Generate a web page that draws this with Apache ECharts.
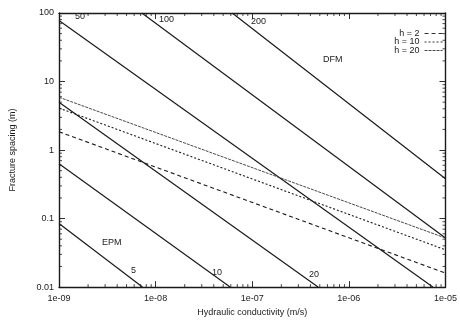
<!DOCTYPE html>
<html>
<head>
<meta charset="utf-8">
<script src="https://cdn.jsdelivr.net/npm/echarts@6/dist/echarts.min.js"></script>
<style>
  html, body { margin: 0; padding: 0; background: #fff; }
  #chart { width: 460px; height: 322px; }
</style>
</head>
<body>
<div id="chart"></div>
<script>
// Aperture lines (fracture aperture in micrometres): end points [K (m/s), spacing (m)]
const apertureLabels = ['5', '10', '20', '50', '100', '200'];
const aperture5   = [[1e-9, 0.085], [7.3e-9, 0.01]];
const aperture10  = [[1e-9, 0.63],  [5.9e-8, 0.01]];
const aperture20  = [[1e-9, 5.0],   [4.8e-7, 0.01]];
const aperture50  = [[1e-9, 78],    [7.4e-6, 0.01]];
const aperture100 = [[7.2e-9, 100], [1e-5, 0.052]];
const aperture200 = [[6.2e-8, 100], [1e-5, 0.38]];

// Thickness criteria h = 2, 10, 20
const hLabels = ['h = 2', 'h = 10', 'h = 20'];
const h2  = [[1e-9, 1.85], [1e-5, 0.016]];
const h10 = [[1e-9, 4.1],  [1e-5, 0.035]];
const h20 = [[1e-9, 5.9],  [1e-5, 0.052]];

// Axis ticks
const xTickLabels = ['1e-09', '1e-08', '1e-07', '1e-06', '1e-05'];
const yTickLabels = ['0.01', '0.1', '1', '10', '100'];
const xDecades = [1e-9, 1e-8, 1e-7, 1e-6];
const yDecades = [0.01, 0.1, 1, 10];
const minorSteps = [2, 3, 4, 5, 6, 7, 8, 9];

const X_MIN = 1e-9, X_MAX = 1e-5, Y_MIN = 0.01, Y_MAX = 100;
const FONT = 'Liberation Sans';
const INK = '#1a1a1a';

const xMinor = [];
xDecades.forEach(d => minorSteps.forEach(m => xMinor.push([d * m, Y_MIN])));
const yMinor = [];
yDecades.forEach(d => minorSteps.forEach(m => yMinor.push([X_MIN, d * m])));

const solidStyle = { color: INK, width: 1.2, type: 'solid' };

function lineSeries(name, data, style) {
  return {
    name: name, type: 'line', data: data,
    showSymbol: false, symbol: 'none', silent: true,
    lineStyle: style, itemStyle: { color: style.color },
    animation: false, z: 3
  };
}

function tickLine(p1, p2) {
  return { type: 'line', shape: { x1: p1[0], y1: p1[1], x2: p2[0], y2: p2[1] },
           style: { stroke: INK, lineWidth: 0.8 } };
}

const minorLen = 3;
const xMinorSeries = {
  type: 'custom', coordinateSystem: 'cartesian2d', data: xMinor, silent: true,
  clip: false, animation: false, z: 4,
  renderItem: function (params, api) {
    const v = api.value(0);
    const b = api.coord([v, Y_MIN]);
    const t = api.coord([v, Y_MAX]);
    return { type: 'group', children: [
      tickLine(b, [b[0], b[1] - minorLen]),
      tickLine(t, [t[0], t[1] + minorLen])
    ] };
  }
};
const yMinorSeries = {
  type: 'custom', coordinateSystem: 'cartesian2d', data: yMinor, silent: true,
  clip: false, animation: false, z: 4,
  renderItem: function (params, api) {
    const v = api.value(1);
    const l = api.coord([X_MIN, v]);
    const r = api.coord([X_MAX, v]);
    return { type: 'group', children: [
      tickLine(l, [l[0] + minorLen, l[1]]),
      tickLine(r, [r[0] - minorLen, r[1]])
    ] };
  }
};

const axisLineStyle = { lineStyle: { color: INK, width: 1.4 } };
const majorTick = { show: true, inside: true, length: 6, lineStyle: { color: INK, width: 0.9 } };
const labelText = { fontFamily: FONT, fontSize: 9, color: INK };

const chart = echarts.init(document.getElementById('chart'), null, { renderer: 'canvas' });
chart.setOption({
  backgroundColor: '#fff',
  animation: false,
  grid: { left: 55, right: 14, top: 13, bottom: 29, show: false },
  xAxis: [
    {
      type: 'log', logBase: 10, min: X_MIN, max: X_MAX, position: 'bottom',
      axisLine: axisLineStyle, axisTick: majorTick, splitLine: { show: false },
      axisLabel: Object.assign({ margin: 7,
        formatter: v => xTickLabels[Math.round(Math.log10(v)) + 9] }, labelText),
      name: 'Hydraulic conductivity (m/s)', nameLocation: 'middle', nameGap: 17,
      nameTextStyle: { fontFamily: FONT, fontSize: 9, color: INK }
    },
    {
      type: 'log', logBase: 10, min: X_MIN, max: X_MAX, position: 'top',
      axisLine: axisLineStyle, axisTick: majorTick, splitLine: { show: false },
      axisLabel: { show: false }
    }
  ],
  yAxis: [
    {
      type: 'log', logBase: 10, min: Y_MIN, max: Y_MAX, position: 'left',
      axisLine: axisLineStyle, axisTick: majorTick, splitLine: { show: false },
      axisLabel: Object.assign({ margin: 5,
        formatter: v => yTickLabels[Math.round(Math.log10(v)) + 2] }, labelText),
      name: 'Fracture spacing (m)', nameLocation: 'middle', nameGap: 42, nameRotate: 90,
      nameTextStyle: { fontFamily: FONT, fontSize: 9, color: INK }
    },
    {
      type: 'log', logBase: 10, min: Y_MIN, max: Y_MAX, position: 'right',
      axisLine: axisLineStyle, axisTick: majorTick, splitLine: { show: false },
      axisLabel: { show: false }
    }
  ],
  legend: {
    data: hLabels, orient: 'vertical', right: 17, top: 29, align: 'right',
    itemWidth: 18, itemHeight: 6, itemGap: -0.5, padding: 0,
    itemStyle: { opacity: 0 },
    lineStyle: { width: 0.9 },
    textStyle: { fontFamily: FONT, fontSize: 9, color: INK },
    selectedMode: false
  },
  series: [
    lineSeries(apertureLabels[0], aperture5, solidStyle),
    lineSeries(apertureLabels[1], aperture10, solidStyle),
    lineSeries(apertureLabels[2], aperture20, solidStyle),
    lineSeries(apertureLabels[3], aperture50, solidStyle),
    lineSeries(apertureLabels[4], aperture100, solidStyle),
    lineSeries(apertureLabels[5], aperture200, solidStyle),
    lineSeries(hLabels[0], h2,  { color: INK, width: 1.1, type: [4, 3] }),
    lineSeries(hLabels[1], h10, { color: INK, width: 1.1, type: [2, 2] }),
    lineSeries(hLabels[2], h20, { color: '#333', width: 0.9, type: [3, 1] }),
    xMinorSeries,
    yMinorSeries
  ],
  graphic: [
    { type: 'text', left: 75, top: 12, style: { text: apertureLabels[3], font: '9px ' + FONT, fill: INK } },
    { type: 'text', left: 159, top: 15, style: { text: apertureLabels[4], font: '9px ' + FONT, fill: INK } },
    { type: 'text', left: 251, top: 17, style: { text: apertureLabels[5], font: '9px ' + FONT, fill: INK } },
    { type: 'text', left: 323, top: 55, style: { text: 'DFM', font: '9px ' + FONT, fill: INK } },
    { type: 'text', left: 102, top: 238, style: { text: 'EPM', font: '9px ' + FONT, fill: INK } },
    { type: 'text', left: 131, top: 266, style: { text: apertureLabels[0], font: '9px ' + FONT, fill: INK } },
    { type: 'text', left: 212, top: 268, style: { text: apertureLabels[1], font: '9px ' + FONT, fill: INK } },
    { type: 'text', left: 309, top: 270, style: { text: apertureLabels[2], font: '9px ' + FONT, fill: INK } }
  ]
});
</script>
</body>
</html>
